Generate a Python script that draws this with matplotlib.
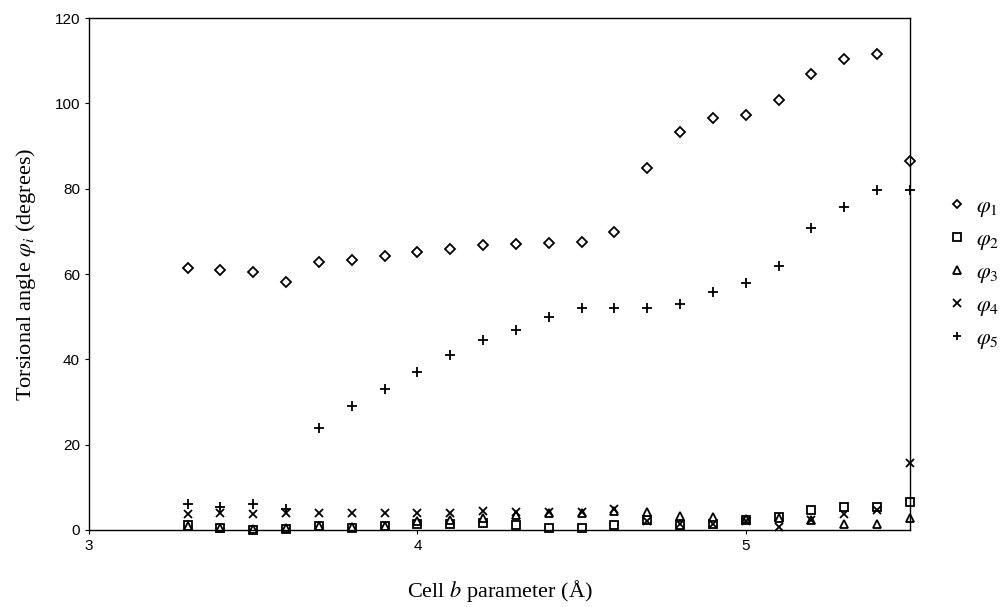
import numpy as np
import matplotlib.pyplot as plt

# cell b parameter (Angstrom)
cell_b = [3.3, 3.4, 3.5, 3.6, 3.7, 3.8, 3.9, 4.0, 4.1, 4.2, 4.3, 4.4,
          4.5, 4.6, 4.7, 4.8, 4.9, 5.0, 5.1, 5.2, 5.3, 5.4, 5.5]

# torsional angles (degrees)
phi1 = [61.4, 60.9, 60.5, 58.1, 62.8, 63.3, 64.3, 65.2, 65.9, 66.7, 67.1, 67.4,
        67.6, 69.8, 84.8, 93.4, 96.7, 97.2, 100.8, 106.9, 110.5, 111.6, 86.4]
phi2 = [1.2, 0.5, 0.0, 0.2, 1.0, 0.5, 1.0, 1.3, 1.3, 1.6, 1.1, 0.4,
        0.5, 1.1, 2.3, 1.1, 1.5, 2.3, 3.0, 4.7, 5.3, 5.3, 6.6]
phi3 = [0.8, 0.5, 0.3, 0.4, 0.8, 0.6, 0.9, 2.2, 2.4, 2.8, 3.6, 4.0,
        4.0, 4.4, 4.1, 3.3, 3.0, 2.5, 2.8, 2.3, 1.4, 1.4, 2.7]
phi4 = [3.8, 3.9, 3.8, 3.9, 3.9, 3.9, 3.9, 3.9, 3.9, 4.5, 4.2, 4.2,
        4.2, 4.8, 2.0, 1.5, 1.5, 2.0, 0.6, 2.3, 3.8, 4.7, 15.6]
phi5 = [6.1, 5.3, 6.1, 5.0, 24.0, 29.0, 33.0, 37.0, 41.0, 44.6, 46.9, 50.0,
        52.0, 52.0, 52.0, 52.9, 55.9, 57.9, 62.0, 70.7, 75.7, 79.7, 79.7]

labels = [r'$\varphi_1$', r'$\varphi_2$', r'$\varphi_3$', r'$\varphi_4$', r'$\varphi_5$']
markers = ['D', 's', '^', 'x', '+']
sizes = [5, 6, 6, 6, 7]

plt.rcParams['mathtext.fontset'] = 'stix'

fig = plt.figure(figsize=(10, 6.07), dpi=100)
ax = fig.add_axes([0.089, 0.127, 0.821, 0.843])

for series, m, s, lab in zip([phi1, phi2, phi3, phi4, phi5], markers, sizes, labels):
    if m in ('x', '+'):
        ax.plot(cell_b, series, linestyle='none', marker=m, markersize=s,
                color='black', markeredgewidth=1.3, label=lab, clip_on=False)
    else:
        ax.plot(cell_b, series, linestyle='none', marker=m, markersize=s,
                markerfacecolor='white', markeredgecolor='black',
                markeredgewidth=1.3, label=lab, clip_on=False)

ax.set_xlim(3, 5.5)
ax.set_ylim(0, 120)
ax.set_xticks([3, 4, 5])
ax.set_yticks(np.arange(0, 121, 20))
ax.tick_params(direction='out', length=3, width=0.8, labelsize=11)
for lbl in ax.get_xticklabels() + ax.get_yticklabels():
    lbl.set_family('Liberation Sans')
for sp in ax.spines.values():
    sp.set_linewidth(1.0)
    sp.set_color('black')

ax.set_xlabel('Cell $b$ parameter (Å)', fontsize=16,
              family='Liberation Serif', labelpad=18)
ax.set_ylabel(r'Torsional angle $\varphi_i$ (degrees)', fontsize=16,
              family='Liberation Serif', labelpad=12)

fig.legend(loc='upper left', bbox_to_anchor=(0.94, 1 - 187 / 607), frameon=False,
           fontsize=16, handlelength=0.7, handletextpad=0.5, labelspacing=0.45,
           markerscale=0.85, borderaxespad=0)

fig.savefig('out.png', dpi=100)
